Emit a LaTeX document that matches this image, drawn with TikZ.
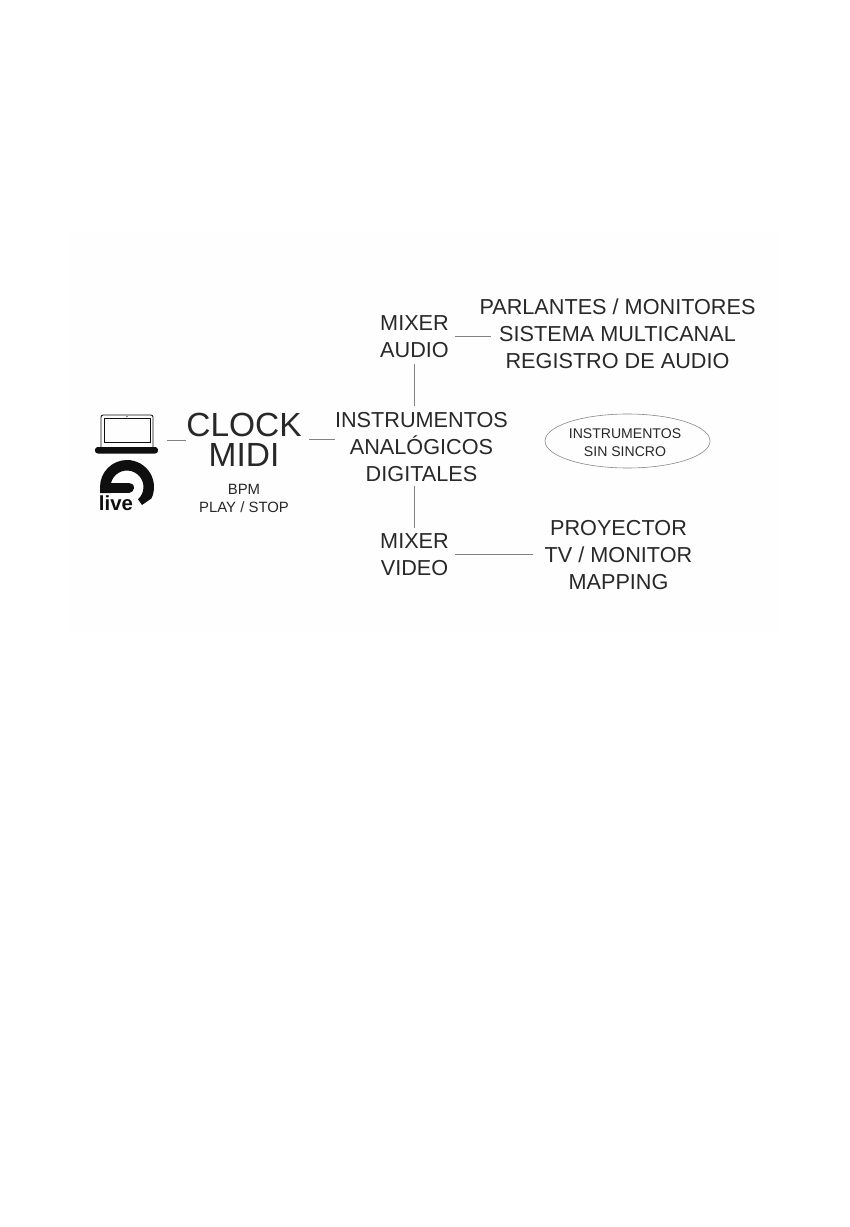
\documentclass[tikz,border=0pt]{standalone}
\usepackage{fontspec}
\usepackage{xcolor}
\usetikzlibrary{shapes.geometric}
\setmainfont{Liberation Sans}
\definecolor{live@ink}{RGB}{15, 15, 15}
\definecolor{live@text}{RGB}{40, 40, 40}
\definecolor{live@line}{RGB}{130, 130, 130}
\definecolor{live@panel}{RGB}{254, 254, 254}

\begin{document}
\begin{tikzpicture}[
  x=0.025cm, y=-0.025cm,
  huge/.style  = {align=center, inner sep=0pt, text=live@text,
                  font=\fontsize{23.8}{21.3}\selectfont},
  big/.style   = {align=center, inner sep=0pt, text=live@text,
                  font=\fontsize{15.4}{19.2}\selectfont},
  small/.style = {align=center, inner sep=0pt, text=live@text,
                  font=\fontsize{10.6}{12.8}\selectfont},
  tiny/.style  = {align=center, inner sep=0pt, text=live@text,
                  font=\fontsize{10}{12.8}\selectfont},
  conn/.style  = {live@line, line width=0.5pt},
  logo/.style  = {fill=live@ink, draw=none},
]
  \useasboundingbox (0,0) rectangle (849,1227);
  \fill[live@panel] (70,233) rectangle (780,632);

  % laptop
  \node[minimum width=1.575cm, minimum height=1cm, inner sep=0pt, outer sep=0.225cm] (laptop) at (126.5,434) {};
  \draw[live@ink, line width=0.6pt, rounded corners=1.5pt] (101,447) -- (101,415) -- (153,415) -- (153,447);
  \draw[live@ink, line width=0.5pt] (104,418) rectangle (150,442);
  \fill[live@ink] (127,416.5) circle (0.7);
  \fill[live@ink, rounded corners=2pt] (95,447) rectangle (158,453.5);

  % logo
  \fill[logo] (100,487) arc (180:385:27) -- (142,505) -- (138,499.3) arc (408:180:16.5) -- (110.5,493) -- (100,493) -- cycle;
  \draw[live@ink, line width=0.25cm, line cap=round] (106,487.5) -- (129,487.5);
  \node[inner sep=0pt, text=live@ink, font=\fontsize{14.5}{14.5}\selectfont\bfseries] (live) at (116,503) {live};

  \node[huge] (clock) at (244,440) {CLOCK\\MIDI};
  \node[small] (sync) at (244,498) {BPM\\PLAY / STOP};

  \node[big, outer xsep=0pt, outer ysep=0.11cm] (instr) at (421.5,447) {INSTRUMENTOS\\ANALÓGICOS\\DIGITALES};
  \node[big, outer sep=0.15cm] (mixa) at (414.5,337) {MIXER\\AUDIO};
  \node[big, outer sep=0.15cm] (mixv) at (414.5,555) {MIXER\\VIDEO};

  \node[big] (parl) at (617.5,307) {PARLANTES / MONITORES};
  \node[big, outer sep=0.2cm] (sist) at (617.5,334) {SISTEMA MULTICANAL};
  \node[big] (regi) at (617.5,361) {REGISTRO DE AUDIO};

  \node[big] (proy) at (618.5,528) {PROYECTOR};
  \node[big, outer sep=0.3cm] (tele) at (618.5,555) {TV / MONITOR};
  \node[big] (mapp) at (618.5,582) {MAPPING};

  \node[ellipse, draw=live@line, line width=0.4pt, minimum width=4.125cm, minimum height=1.35cm, inner sep=0pt] (sinc) at (627.5,441) {};
  \node[tiny] (sint) at (625,442.5) {INSTRUMENTOS\\SIN SINCRO};

  \draw[conn] (laptop.east |- clock.west) -- (clock.west);
  \draw[conn] ([xshift=0.18cm,yshift=0.025cm]clock.east) -- ([yshift=0.025cm]clock.east -| instr.west);
  \draw[conn, shorten >=0.05cm] (mixa.south) -- (mixa.south |- instr.north);
  \draw[conn] (mixv.north) -- (mixv.north |- instr.south);
  \draw[conn] ([yshift=0.025cm]mixa.east) -- ([yshift=0.025cm]mixa.east -| sist.west);
  \draw[conn] ([yshift=0.025cm]mixv.east) -- ([yshift=0.025cm]tele.west);
\end{tikzpicture}
\end{document}
